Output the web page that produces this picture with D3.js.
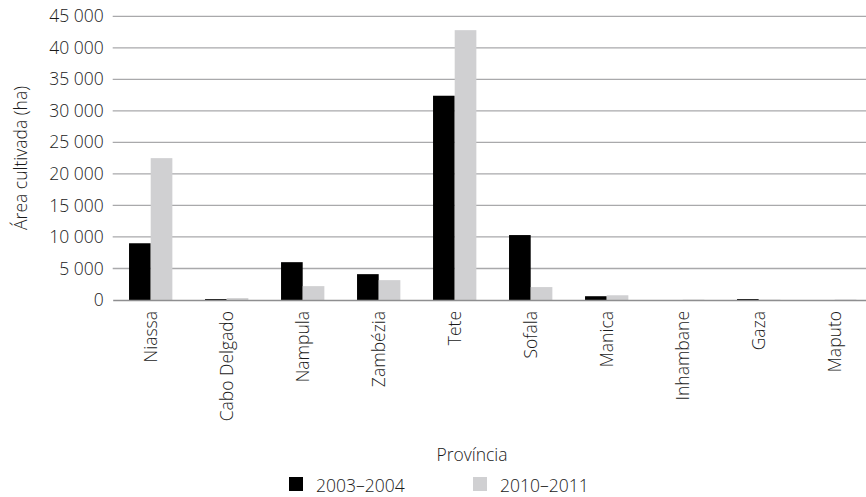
<!DOCTYPE html>
<html>
<head>
<meta charset="utf-8">
<script src="https://cdn.jsdelivr.net/npm/d3@7"></script>
<style>
  html, body { margin: 0; padding: 0; background: #fff; }
  svg { display: block; }
  text { font-family: "Open Sans", sans-serif; font-weight: 300; fill: #1a1a1a; }
</style>
</head>
<body>
<svg id="chart" width="866" height="497"></svg>
<script>
const provinces = ["Niassa", "Cabo Delgado", "Nampula", "Zambézia", "Tete", "Sofala", "Manica", "Inhambane", "Gaza", "Maputo"];
const seriesNames = ["2003–2004", "2010–2011"];
const values2003 = [9000, 150, 6000, 4100, 32400, 10300, 600, 0, 150, 0];
const values2010 = [22500, 300, 2200, 3150, 42800, 2050, 750, 50, 50, 60];
const yTicks = [0, 5000, 10000, 15000, 20000, 25000, 30000, 35000, 40000, 45000];
const colors = ["#000000", "#d0d0d2"];

const FS = 17.5;
const TXT = "#1a1a1a";
const svg = d3.select("#chart");
const mLeft = 112.7, mRight = 872.7, mTop = 16.3, mBottom = 300;

const x = d3.scaleBand().domain(provinces).range([mLeft, mRight]).paddingInner(0.43).paddingOuter(0.215);
const xs = d3.scaleBand().domain(seriesNames).range([0, x.bandwidth()]);
const y = d3.scaleLinear().domain([0, 45000]).range([mBottom, mTop]);

const fmt = v => d3.format(",")(v).replace(/,/g, " ");

// gridlines
svg.append("g").selectAll("line").data(yTicks.filter(t => t > 0)).join("line")
  .attr("x1", mLeft).attr("x2", mRight)
  .attr("y1", d => y(d)).attr("y2", d => y(d))
  .attr("stroke", "#a9a9ab").attr("stroke-width", 1.3);

// y tick labels
const yAxis = d3.axisLeft(y).tickValues(yTicks).tickFormat(fmt).tickSize(0).tickPadding(9);
const gy = svg.append("g").attr("transform", `translate(${mLeft},0)`).call(yAxis);
gy.select(".domain").remove();
gy.selectAll("text").attr("font-size", FS).attr("fill", TXT).attr("font-family", "'Open Sans', sans-serif").attr("font-weight", 300);

// bars
const data = provinces.map((p, i) => ({p, vals: [values2003[i], values2010[i]]}));
const groups = svg.append("g").selectAll("g").data(data).join("g")
  .attr("transform", d => `translate(${x(d.p)},0)`);
groups.selectAll("rect").data(d => d.vals.map((v, j) => ({v, s: seriesNames[j], j}))).join("rect")
  .attr("x", d => xs(d.s)).attr("width", xs.bandwidth())
  .attr("y", d => y(d.v)).attr("height", d => mBottom - y(d.v))
  .attr("fill", d => colors[d.j]);

// baseline + x axis labels
const xAxis = d3.axisBottom(x).tickSize(0).tickPadding(0);
const gx = svg.append("g").attr("transform", `translate(0,${mBottom})`).call(xAxis);
gx.select(".domain").attr("stroke", "#8e8e90").attr("stroke-width", 1.5);
gx.selectAll("text")
  .attr("font-size", FS).attr("fill", TXT).attr("font-family", "'Open Sans', sans-serif").attr("font-weight", 300)
  .attr("transform", "rotate(-90)")
  .attr("text-anchor", "end")
  .attr("x", -11).attr("y", 0).attr("dy", "0.35em");

// axis titles
svg.append("text").attr("transform", "translate(27,158) rotate(-90)")
  .attr("text-anchor", "middle").attr("font-size", FS).text("Área cultivada (ha)");
svg.append("text").attr("x", 472).attr("y", 461)
  .attr("text-anchor", "middle").attr("font-size", FS).text("Província");

// legend
const legend = svg.append("g");
const legX = [289, 473];
seriesNames.forEach((s, i) => {
  legend.append("rect").attr("x", legX[i]).attr("y", 477).attr("width", 14).attr("height", 14).attr("fill", colors[i]);
  legend.append("text").attr("x", legX[i] + 27).attr("y", 492).attr("font-size", FS).text(s);
});
</script>
</body>
</html>
